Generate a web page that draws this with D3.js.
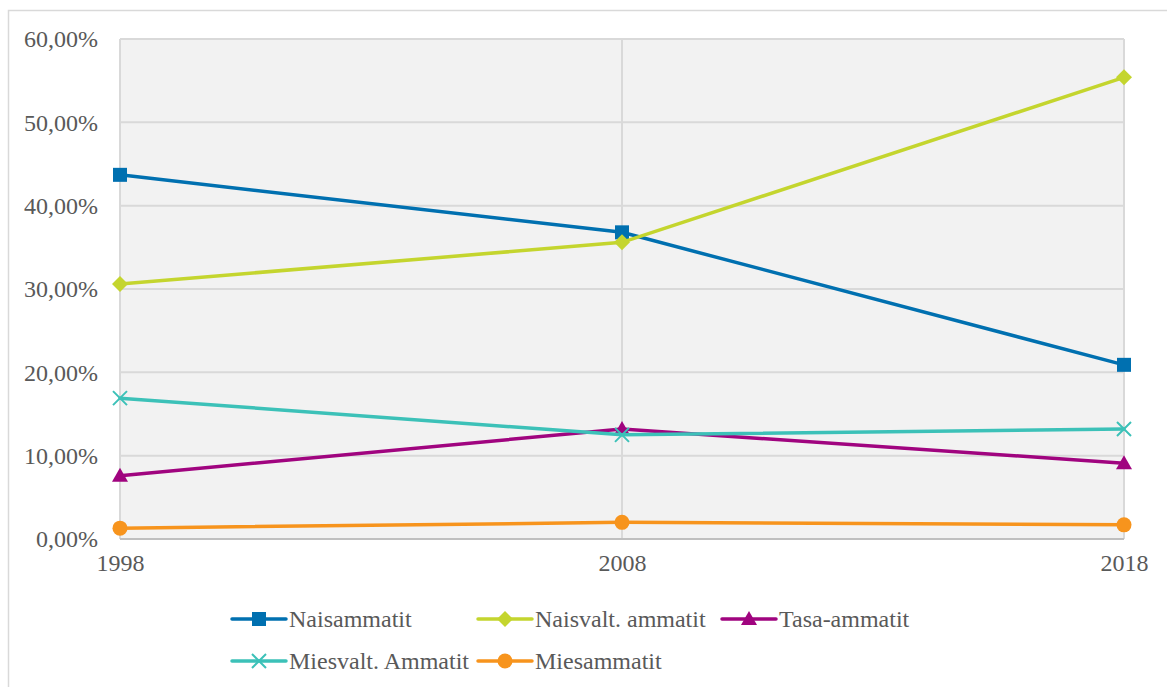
<!DOCTYPE html>
<html><head><meta charset="utf-8">
<script src="https://cdn.jsdelivr.net/npm/d3@7"></script>
<style>body{margin:0;background:#fff}svg{display:block}</style>
</head><body><svg id="c" width="1167" height="687" font-family="Liberation Serif, DejaVu Serif, serif"></svg>
<script>
const years = ["1998", "2008", "2018"];
const yTicks = [0, 10, 20, 30, 40, 50, 60];
const seriesNames = ["Naisammatit", "Naisvalt. ammatit", "Tasa-ammatit", "Miesvalt. Ammatit", "Miesammatit"];
const naisammatit = [43.7, 36.8, 20.9];
const naisvaltAmmatit = [30.6, 35.6, 55.4];
const tasaAmmatit = [7.6, 13.2, 9.1];
const miesvaltAmmatit = [16.9, 12.5, 13.2];
const miesammatit = [1.3, 2.0, 1.7];
const colors = ["#0070b0", "#c4d52e", "#a0047f", "#3cc1b8", "#f7941d"];
const markers = ["square", "diamond", "triangle", "cross", "circle"];
const series = [naisammatit, naisvaltAmmatit, tasaAmmatit, miesvaltAmmatit, miesammatit];

const svg = d3.select("#c");
const textColor = "#595959";
const fs = 24;
const ff = "Liberation Serif, DejaVu Serif, serif";

svg.append("rect").attr("x", 8.5).attr("y", 10.5).attr("width", 1175).attr("height", 700)
  .attr("fill", "none").attr("stroke", "#d9d9d9").attr("stroke-width", 1.5);

const L = 120, R = 1124, T = 39, B = 539;
const x = d3.scalePoint().domain(years).range([L, R]);
const y = d3.scaleLinear().domain([0, 60]).range([B, T]);

svg.append("rect").attr("x", L).attr("y", T).attr("width", R - L).attr("height", B - T).attr("fill", "#f2f2f2");

svg.append("g").selectAll("line").data(yTicks.filter(d => d > 0)).join("line")
  .attr("x1", L).attr("x2", R).attr("y1", d => y(d)).attr("y2", d => y(d))
  .attr("stroke", "#d9d9d9").attr("stroke-width", 2);
svg.append("g").selectAll("line").data(years).join("line")
  .attr("x1", d => x(d)).attr("x2", d => x(d)).attr("y1", T).attr("y2", B)
  .attr("stroke", "#d9d9d9").attr("stroke-width", 2);
svg.append("line").attr("x1", L).attr("x2", R).attr("y1", B).attr("y2", B)
  .attr("stroke", "#bfbfbf").attr("stroke-width", 2);

const yAxis = d3.axisLeft(y).tickValues(yTicks).tickSize(0).tickPadding(22)
  .tickFormat(d => d3.format(".2f")(d).replace(".", ",") + "%");
const gy = svg.append("g").attr("transform", `translate(${L},0)`).call(yAxis);
gy.attr("font-family", ff).attr("font-size", fs);
gy.select(".domain").remove();
gy.selectAll("text").attr("fill", textColor);

const xAxis = d3.axisBottom(x).tickSize(0).tickPadding(15);
const gx = svg.append("g").attr("transform", `translate(0,${B})`).call(xAxis);
gx.attr("font-family", ff).attr("font-size", fs);
gx.select(".domain").remove();
gx.selectAll("text").attr("fill", textColor);

function drawMarker(g, type, color, cx, cy) {
  if (type === "square") {
    g.append("rect").attr("x", cx - 7).attr("y", cy - 7).attr("width", 14).attr("height", 14).attr("fill", color);
  } else if (type === "diamond") {
    g.append("path").attr("d", `M${cx},${cy-8}L${cx+8},${cy}L${cx},${cy+8}L${cx-8},${cy}Z`).attr("fill", color);
  } else if (type === "triangle") {
    g.append("path").attr("d", `M${cx},${cy-8}L${cx+8},${cy+6}L${cx-8},${cy+6}Z`).attr("fill", color);
  } else if (type === "cross") {
    g.append("path").attr("d", `M${cx-7},${cy-7}L${cx+7},${cy+7}M${cx-7},${cy+7}L${cx+7},${cy-7}`)
      .attr("stroke", color).attr("stroke-width", 2).attr("fill", "none");
  } else if (type === "circle") {
    g.append("circle").attr("cx", cx).attr("cy", cy).attr("r", 7.5).attr("fill", color);
  }
}

const line = d3.line().x((d, i) => x(years[i])).y(d => y(d));
series.forEach((s, k) => {
  const g = svg.append("g");
  g.append("path").datum(s).attr("d", line).attr("fill", "none")
    .attr("stroke", colors[k]).attr("stroke-width", 3.5).attr("stroke-linecap", "round");
  s.forEach((v, i) => drawMarker(g, markers[k], colors[k], x(years[i]), y(v)));
});

const legendPos = [[232, 619], [478, 619], [722, 619], [232, 661], [478, 661]];
seriesNames.forEach((name, k) => {
  const [lx, ly] = legendPos[k];
  const g = svg.append("g");
  g.append("line").attr("x1", lx).attr("x2", lx + 54).attr("y1", ly).attr("y2", ly)
    .attr("stroke", colors[k]).attr("stroke-width", 3.5).attr("stroke-linecap", "round");
  drawMarker(g, markers[k], colors[k], lx + 27, ly);
  g.append("text").attr("x", lx + 57).attr("y", ly).attr("dy", "0.35em")
    .attr("font-family", ff).attr("font-size", fs).attr("fill", textColor).text(name);
});
</script></body></html>
